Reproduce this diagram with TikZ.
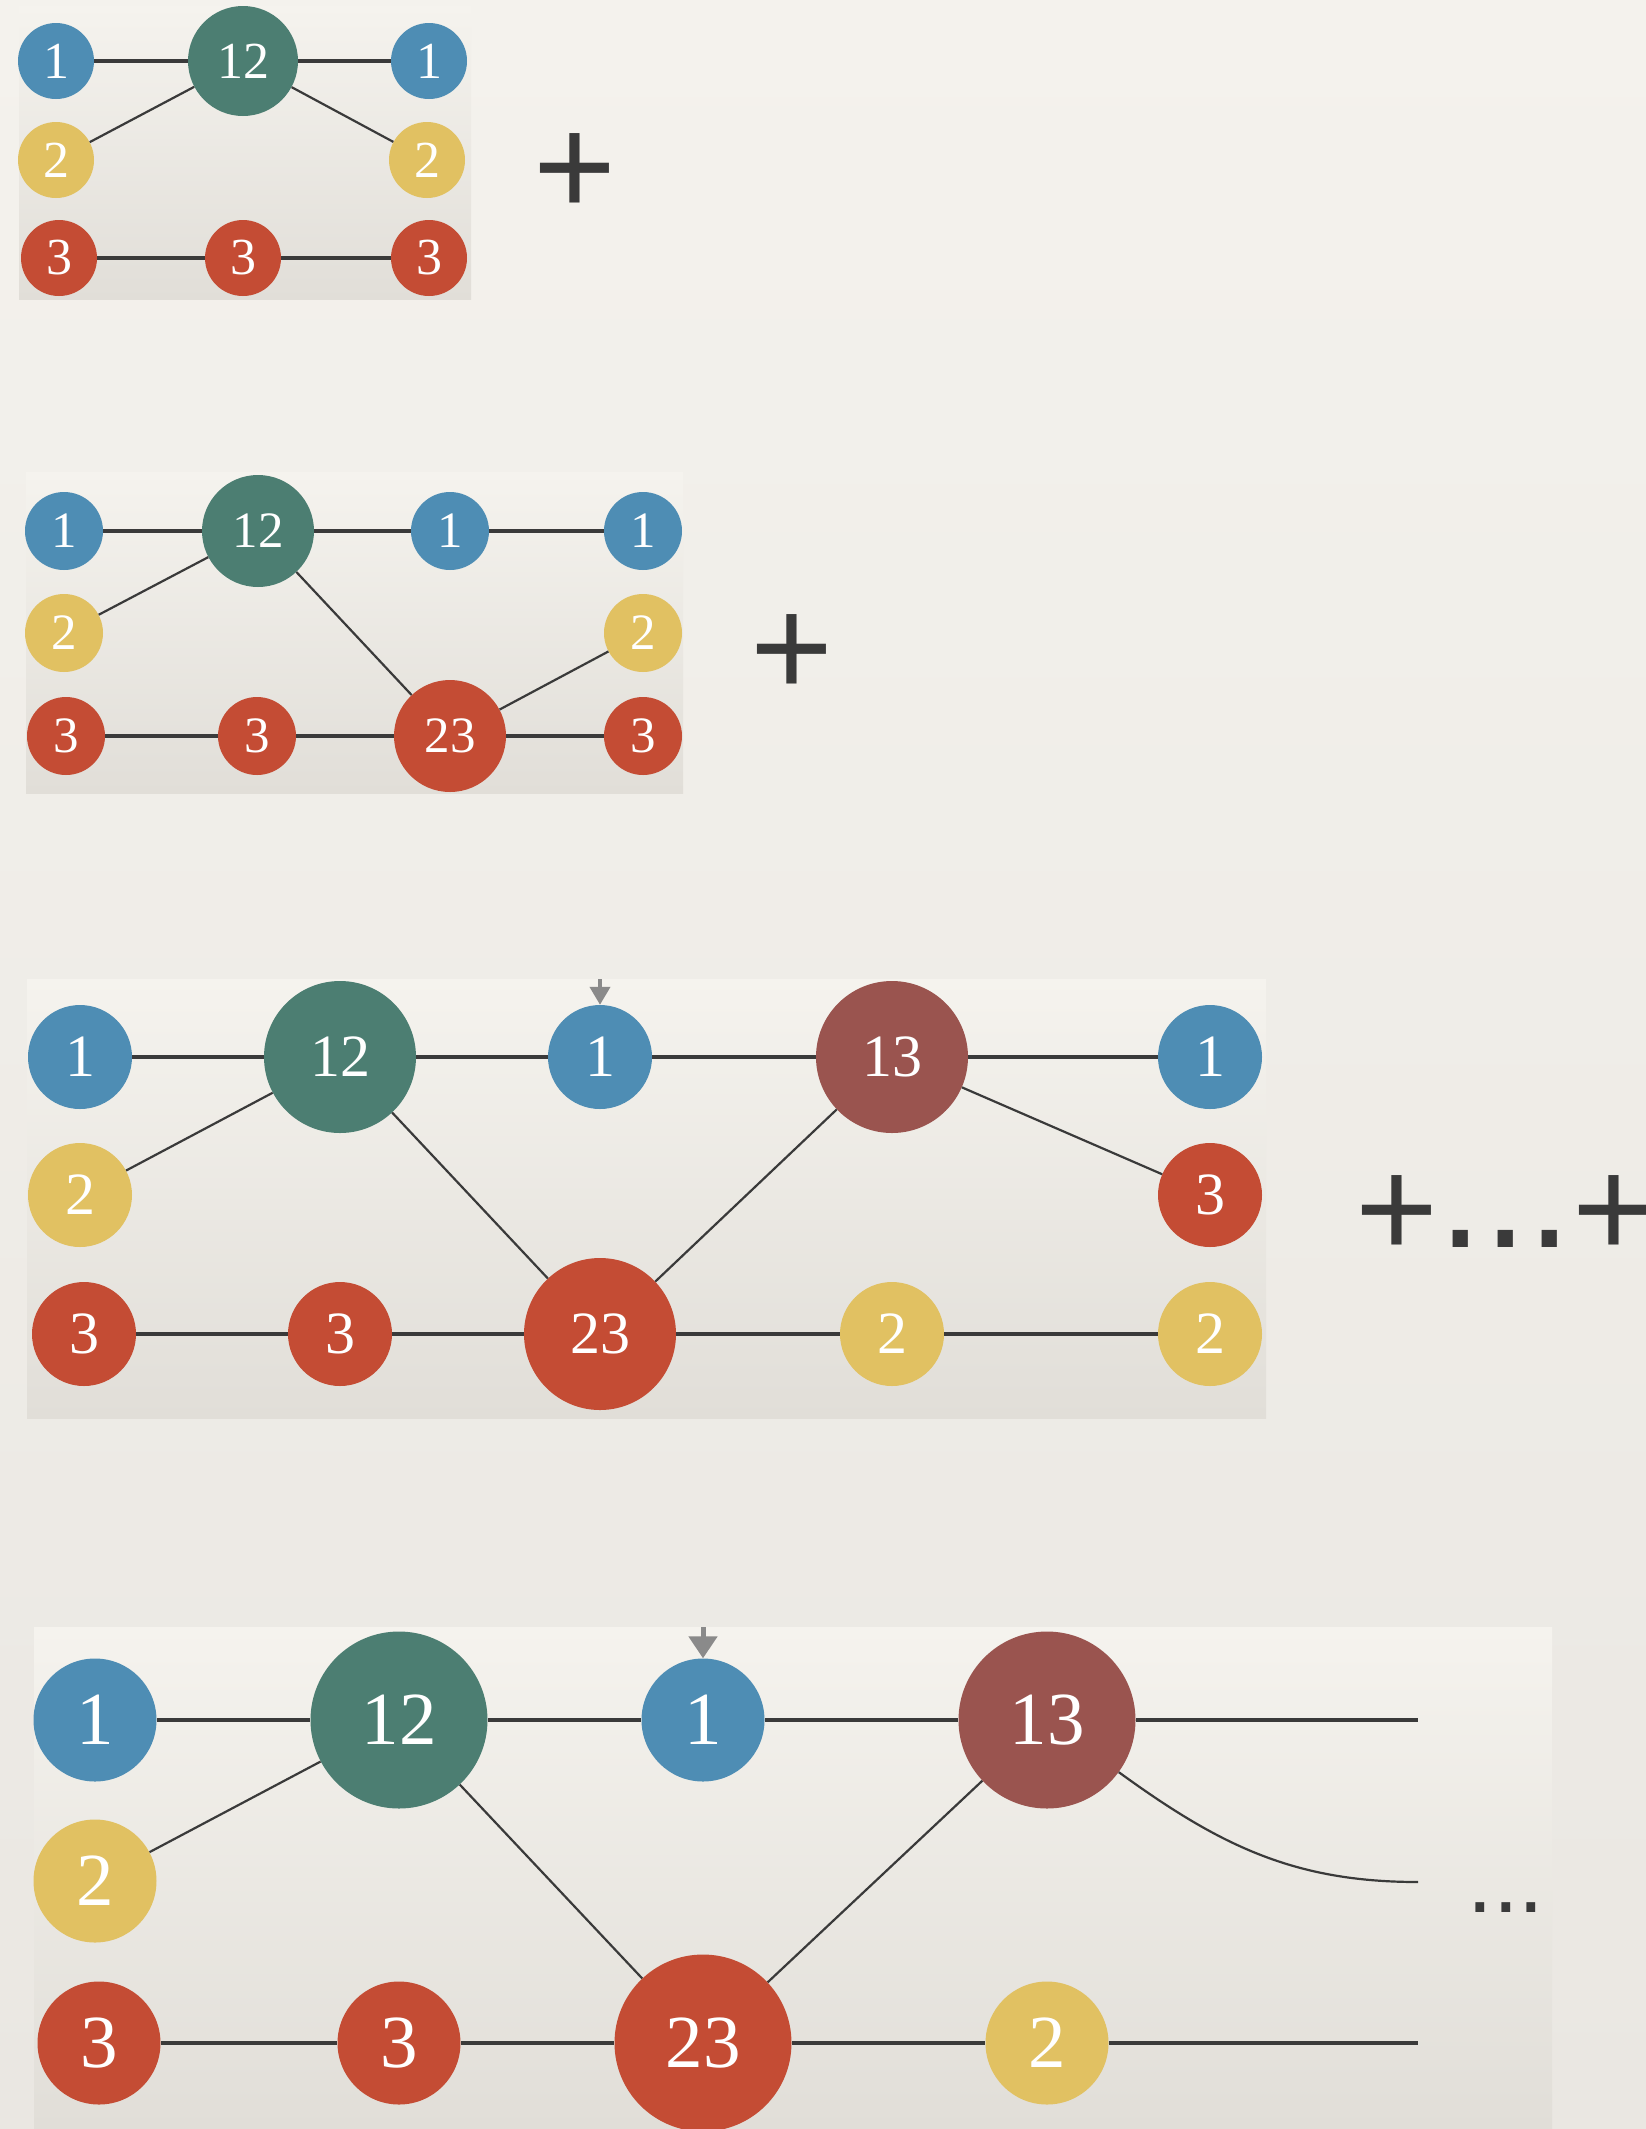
\documentclass[tikz,border=0pt]{standalone}
\usepackage{fontspec}
\usepackage{xcolor}
\usepackage{tikz}
\usetikzlibrary{arrows.meta}
\newfontfamily\plusfont{Liberation Sans}
\newfontfamily\numfont{Liberation Serif}
\definecolor{myblue}{RGB}{78,141,180}
\definecolor{myteal}{RGB}{76,126,114}
\definecolor{mymaroon}{RGB}{154,84,79}
\definecolor{myred}{RGB}{196,76,52}
\definecolor{myyellow}{RGB}{225,193,98}
\definecolor{mydark}{RGB}{58,58,58}
\definecolor{mygray}{RGB}{138,138,138}
\definecolor{paperhi}{RGB}{244,242,237}
\definecolor{paperlo}{RGB}{234,231,226}
\definecolor{panelhi}{RGB}{245,243,238}
\definecolor{panello}{RGB}{225,222,216}
\tikzset{
  ball/.style={circle, inner sep=0pt, text=white},
  bl/.style={ball, fill=myblue},
  tl/.style={ball, fill=myteal},
  mr/.style={ball, fill=mymaroon},
  rd/.style={ball, fill=myred},
  yl/.style={ball, fill=myyellow},
  line/.style={line width=3.2pt, color=mydark},
  slant/.style={line width=2.2pt, color=mydark},
  panel/.style={top color=panelhi, bottom color=panello},
  plus/.style={anchor=base, inner sep=0pt, text=mydark, font=\plusfont\fontsize{142}{142}\selectfont}
}

\begin{document}
\begin{tikzpicture}[
  x=1pt, y=1pt,
  sa/.style={minimum size=76pt, font=\numfont\fontsize{52}{52}\selectfont},
  ba/.style={minimum size=110pt, font=\numfont\fontsize{52}{52}\selectfont},
  sb/.style={minimum size=78pt, font=\numfont\fontsize{51}{51}\selectfont},
  bb/.style={minimum size=112pt, font=\numfont\fontsize{51}{51}\selectfont},
  sc/.style={minimum size=104pt, font=\numfont\fontsize{60}{60}\selectfont},
  bc/.style={minimum size=152pt, font=\numfont\fontsize{60}{60}\selectfont},
  sd/.style={minimum size=123pt, font=\numfont\fontsize{75}{75}\selectfont},
  bd/.style={minimum size=177pt, font=\numfont\fontsize{75}{75}\selectfont},
  markc/.style={-{Triangle[width=20pt, length=18pt]}, line width=4pt, color=mygray},
  markd/.style={-{Triangle[width=28pt, length=22pt]}, line width=5pt, color=mygray}
]
  \shade [top color=paperhi, bottom color=paperlo] (0,0) rectangle (1646,-2129);
  \useasboundingbox (0,0) rectangle (1646,-2129);

  \shade [panel] (19,-6) rectangle (471,-299);
  \shade [panel] (26,-472) rectangle (683,-793);
  \shade [panel] (27,-979) rectangle (1266,-1418);
  \shade [panel] (34,-1627) rectangle (1552,-2129);

  \node [bl, sa] (a1) at (56,-61) {1};
  \node [tl, ba] (a12) at (243,-61) {12};
  \node [bl, sa] (a1r) at (429,-61) {1};
  \node [yl, sa] (a2) at (56,-160) {2};
  \node [yl, sa] (a2r) at (427,-160) {2};
  \node [rd, sa] (a3) at (59,-258) {3};
  \node [rd, sa] (a3m) at (243,-258) {3};
  \node [rd, sa] (a3r) at (429,-258) {3};
  \node [plus] (plusa) at (575,-215) {+};

  \draw [line] (a1) -- (a12);
  \draw [line] (a12) -- (a1r);
  \draw [slant] (a12) -- (a2);
  \draw [slant] (a12) -- (a2r);
  \draw [line] (a3) -- (a3m);
  \draw [line] (a3m) -- (a3r);

  \node [bl, sb] (b1) at (64,-531) {1};
  \node [tl, bb] (b12) at (258,-531) {12};
  \node [bl, sb] (b1m) at (450,-531) {1};
  \node [bl, sb] (b1r) at (643,-531) {1};
  \node [yl, sb] (b2) at (64,-633) {2};
  \node [yl, sb] (b2r) at (643,-633) {2};
  \node [rd, sb] (b3) at (66,-736) {3};
  \node [rd, sb] (b3m) at (257,-736) {3};
  \node [rd, bb] (b23) at (450,-736) {23};
  \node [rd, sb] (b3r) at (643,-736) {3};
  \node [plus] (plusb) at (792,-696) {+};

  \draw [line] (b1) -- (b12);
  \draw [line] (b12) -- (b1m);
  \draw [line] (b1m) -- (b1r);
  \draw [slant] (b12) -- (b2);
  \draw [slant] (b12) -- (b23);
  \draw [slant] (b23) -- (b2r);
  \draw [line] (b3) -- (b3m);
  \draw [line] (b3m) -- (b23);
  \draw [line] (b23) -- (b3r);

  \node [bl, sc] (c1) at (80,-1057) {1};
  \node [tl, bc] (c12) at (340,-1057) {12};
  \node [bl, sc] (c1m) at (600,-1057) {1};
  \node [mr, bc] (c13) at (892,-1057) {13};
  \node [bl, sc] (c1r) at (1210,-1057) {1};
  \node [yl, sc] (c2) at (80,-1195) {2};
  \node [rd, sc] (c3r) at (1210,-1195) {3};
  \node [rd, sc] (c3) at (84,-1334) {3};
  \node [rd, sc] (c3m) at (340,-1334) {3};
  \node [rd, bc] (c23) at (600,-1334) {23};
  \node [yl, sc] (c2m) at (892,-1334) {2};
  \node [yl, sc] (c2r) at (1210,-1334) {2};
  \coordinate (ctop) at (600,-979);
  \node [plus, anchor=base west] (plusc) at (1355.5,-1257)
    {+\raisebox{10pt}{\fontsize{160}{160}\selectfont ...}+};

  \draw [markc] (ctop) -- (c1m);
  \draw [line] (c1) -- (c12);
  \draw [line] (c12) -- (c1m);
  \draw [line] (c1m) -- (c13);
  \draw [line] (c13) -- (c1r);
  \draw [slant] (c12) -- (c2);
  \draw [slant] (c12) -- (c23);
  \draw [slant] (c23) -- (c13);
  \draw [slant] (c13) -- (c3r);
  \draw [line] (c3) -- (c3m);
  \draw [line] (c3m) -- (c23);
  \draw [line] (c23) -- (c2m);
  \draw [line] (c2m) -- (c2r);

  \node [bl, sd] (d1) at (95,-1720) {1};
  \node [tl, bd] (d12) at (399,-1720) {12};
  \node [bl, sd] (d1m) at (703,-1720) {1};
  \node [mr, bd] (d13) at (1047,-1720) {13};
  \node [yl, sd] (d2) at (95,-1881) {2};
  \node [rd, sd] (d3) at (99,-2043) {3};
  \node [rd, sd] (d3m) at (399,-2043) {3};
  \node [rd, bd] (d23) at (703,-2043) {23};
  \node [yl, sd] (d2m) at (1047,-2043) {2};
  \coordinate (dtop) at (703,-1627);
  \coordinate (dend1) at (1418,-1720);
  \coordinate (dend2) at (1418,-1882);
  \coordinate (dend3) at (1418,-2043);
  \node [plus, font=\plusfont\fontsize{92}{92}\selectfont] (dotsd) at (1506,-1912) {...};

  \draw [markd] (dtop) -- (d1m);
  \draw [line] (d1) -- (d12);
  \draw [line] (d12) -- (d1m);
  \draw [line] (d1m) -- (d13);
  \draw [line] (d13) -- (dend1);
  \draw [slant] (d12) -- (d2);
  \draw [slant] (d12) -- (d23);
  \draw [slant] (d23) -- (d13);
  \draw [slant] (d13) to[out=-36, in=180] (dend2);
  \draw [line] (d3) -- (d3m);
  \draw [line] (d3m) -- (d23);
  \draw [line] (d23) -- (d2m);
  \draw [line] (d2m) -- (dend3);
\end{tikzpicture}
\end{document}
